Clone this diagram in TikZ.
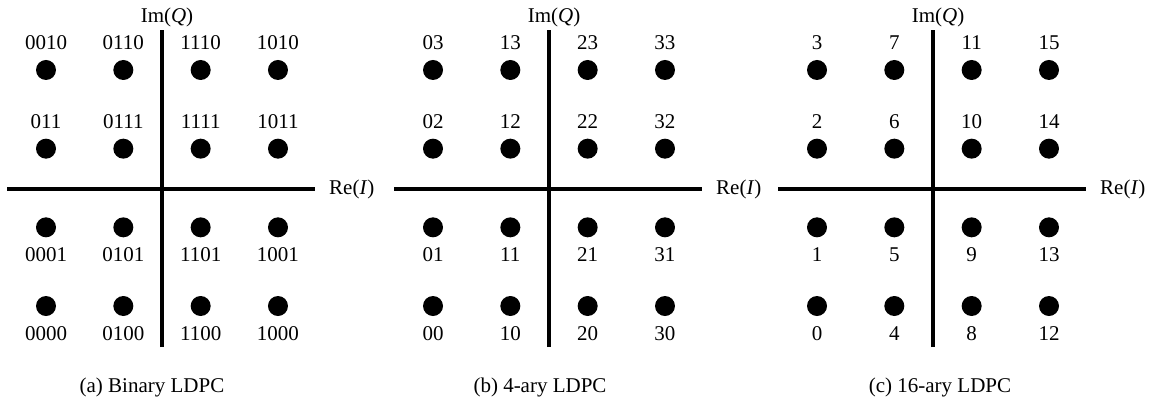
\documentclass[tikz,border=0pt]{standalone}
\usepackage{fontspec}
\setmainfont{Liberation Serif}
\usetikzlibrary{positioning}
\tikzset{
  dot/.style={circle, fill=black, inner sep=0pt, minimum size=20pt},
  lbl/.style={inner sep=0pt, font=\fontsize{21}{25}\selectfont},
  axis/.style={line width=4pt},
}
\begin{document}
\begin{tikzpicture}[x=1pt, y=-1pt]
\useasboundingbox (0,0) rectangle (1156,405);
% (a) Binary
\begin{scope}[xshift=162pt]
\coordinate (aL) at (-155,189); \coordinate (aR) at (153,189);
\coordinate (aB) at (0,347); \coordinate (aT) at (0,30);
\draw[axis] (aL) -- (aR);
\draw[axis] (aB) -- (aT);
\node[lbl, anchor=west] (aRe) at ([xshift=14pt]aR) {Re(\textit{I})};
\node[lbl] (aIm) at (5,17) {Im(\textit{Q})};
\foreach \i/\j/\t in {0/0/0000,0/1/0001,0/2/011,0/3/0010,
                      1/0/0100,1/1/0101,1/2/0111,1/3/0110,
                      2/0/1100,2/1/1101,2/2/1111,2/3/1110,
                      3/0/1000,3/1/1001,3/2/1011,3/3/1010}{
  \node[dot] (a\i\j) at ({-116+77.33*\i},{306-78.67*\j}) {};
  \ifnum\j<2
    \node[lbl, below=10pt of a\i\j] (at\i\j) {\t};
  \else
    \node[lbl, above=10pt of a\i\j] (at\i\j) {\t};
  \fi
}
\node[lbl] (acap) at (-10,387) {(a) Binary LDPC};
\end{scope}
% (b) 4-ary
\begin{scope}[xshift=549pt]
\coordinate (bL) at (-155,189); \coordinate (bR) at (153,189);
\coordinate (bB) at (0,347); \coordinate (bT) at (0,30);
\draw[axis] (bL) -- (bR);
\draw[axis] (bB) -- (bT);
\node[lbl, anchor=west] (bRe) at ([xshift=14pt]bR) {Re(\textit{I})};
\node[lbl] (bIm) at (5,17) {Im(\textit{Q})};
\foreach \i in {0,...,3}
  \foreach \j in {0,...,3}{
    \node[dot] (b\i\j) at ({-116+77.33*\i},{306-78.67*\j}) {};
    \ifnum\j<2
      \node[lbl, below=10pt of b\i\j] (bt\i\j) {\i\j};
    \else
      \node[lbl, above=10pt of b\i\j] (bt\i\j) {\i\j};
    \fi
  }
\node[lbl] (bcap) at (-9,387) {(b) 4-ary LDPC};
\end{scope}
% (c) 16-ary
\begin{scope}[xshift=933pt]
\coordinate (cL) at (-155,189); \coordinate (cR) at (153,189);
\coordinate (cB) at (0,347); \coordinate (cT) at (0,30);
\draw[axis] (cL) -- (cR);
\draw[axis] (cB) -- (cT);
\node[lbl, anchor=west] (cRe) at ([xshift=14pt]cR) {Re(\textit{I})};
\node[lbl] (cIm) at (5,17) {Im(\textit{Q})};
\foreach \i in {0,...,3}
  \foreach \j in {0,...,3}{
    \pgfmathtruncatemacro\n{4*\i+\j}
    \node[dot] (c\i\j) at ({-116+77.33*\i},{306-78.67*\j}) {};
    \ifnum\j<2
      \node[lbl, below=10pt of c\i\j] (ct\i\j) {\n};
    \else
      \node[lbl, above=10pt of c\i\j] (ct\i\j) {\n};
    \fi
  }
\node[lbl] (ccap) at (7,387) {(c) 16-ary LDPC};
\end{scope}
\end{tikzpicture}
\end{document}
